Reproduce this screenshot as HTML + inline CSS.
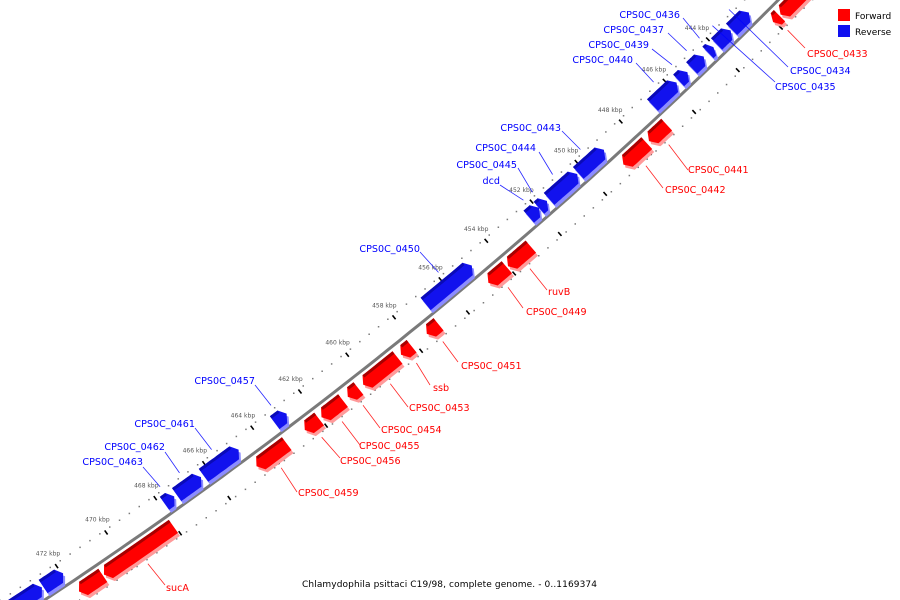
<!DOCTYPE html>
<html><head><meta charset="utf-8">
<style>
html,body{margin:0;padding:0;background:#fff;width:900px;height:600px;overflow:hidden;}
svg{display:block;overflow:hidden;}
.gl{font-family:"DejaVu Sans","Liberation Sans",sans-serif;font-size:9.6px;}
</style></head>
<body>
<svg id="chart" xmlns="http://www.w3.org/2000/svg" width="900" height="600" viewBox="0 0 900 600">
  <g id="ticks"></g>
  <path id="backbone" fill="none" stroke="#7a7a7a" stroke-width="3"></path>
  <g id="genes"></g>
  <g id="labels"></g>
  <g>
    <rect x="838" y="9" width="12" height="12" fill="#ff0000"/>
    <text x="855" y="19" font-family="DejaVu Sans, sans-serif" font-size="9" fill="#000">Forward</text>
    <rect x="838" y="25" width="12" height="12" fill="#1010f0"/>
    <text x="855" y="35" font-family="DejaVu Sans, sans-serif" font-size="9" fill="#000">Reverse</text>
  </g>
  <text x="302" y="587" font-family="DejaVu Sans, sans-serif" font-size="9" textLength="295" fill="#000">Chlamydophila psittaci C19/98, complete genome. - 0..1169374</text>
</svg>
<script>
// ---- data ----
const geneNames = ["CPS0C_0433a","CPS0C_0433","CPS0C_0434","CPS0C_0435","CPS0C_0436","CPS0C_0437","CPS0C_0439","CPS0C_0440","CPS0C_0441","CPS0C_0442","CPS0C_0443","CPS0C_0444","CPS0C_0445","dcd","ruvB","CPS0C_0449","CPS0C_0450","CPS0C_0451","ssb","CPS0C_0453","CPS0C_0454","CPS0C_0455","CPS0C_0456","CPS0C_0457","CPS0C_0459","CPS0C_0461","CPS0C_0462","CPS0C_0463","sucA","sucB","CPS0C_0466","CPS0C_0467"];
const geneStart = [439.5,441.75,442.4,443.25,444.05,444.5,445.25,445.75,446.95,447.85,449.05,450.25,451.6,451.95,453.0,454.05,454.9,457.0,458.15,458.75,460.4,461.05,462.05,462.8,463.4,464.8,466.35,467.45,468.05,470.9,471.95,472.8];
const geneEnd   = [441.7,442.05,443.2,443.9,444.3,445.05,445.65,446.85,447.75,448.9,450.2,451.5,451.95,452.4,454.0,454.85,456.9,457.5,458.6,460.2,460.85,461.95,462.65,463.3,464.65,466.25,467.35,467.85,470.85,471.85,472.75,475.0];
const geneStrand = [1,1,-1,-1,-1,-1,-1,-1,1,1,-1,-1,-1,-1,1,1,-1,1,1,1,1,1,1,-1,1,-1,-1,-1,1,1,-1,-1];
const tickKbp = [442,444,446,448,450,452,454,456,458,460,462,464,466,468,470,472];
const tickLabels = ["442 kbp","444 kbp","446 kbp","448 kbp","450 kbp","452 kbp","454 kbp","456 kbp","458 kbp","460 kbp","462 kbp","464 kbp","466 kbp","468 kbp","470 kbp","472 kbp"];
const labelGene = [1,2,3,4,5,6,7,8,9,10,11,12,13,14,15,16,17,18,19,20,21,22,23,24,25,26,27,28];
const labelText = ["CPS0C_0433","CPS0C_0434","CPS0C_0435","CPS0C_0436","CPS0C_0437","CPS0C_0439","CPS0C_0440","CPS0C_0441","CPS0C_0442","CPS0C_0443","CPS0C_0444","CPS0C_0445","dcd","ruvB","CPS0C_0449","CPS0C_0450","CPS0C_0451","ssb","CPS0C_0453","CPS0C_0454","CPS0C_0455","CPS0C_0456","CPS0C_0457","CPS0C_0459","CPS0C_0461","CPS0C_0462","CPS0C_0463","sucA"];
const labelLayout = [
 [807,57,'start',805,48],[790,74,'start',788,67],[775,90,'start',775,82],
 [680,18,'end',683,18],[664,33,'end',668,33],[649,48,'end',652,49],[633,63,'end',636,63],
 [688,173,'start',688,170],[665,193,'start',663,188],
 [561,131,'end',562,131],[536,151,'end',539,152],[517,168,'end',518,168],[500,184,'end',500,185],
 [548,295,'start',547,290],[526,315,'start',523,308],
 [420,252,'end',420,252],[461,369,'start',458,362],[433,391,'start',430,385],[409,411,'start',408,407],
 [381,433,'start',380,428],[359,449,'start',360,445],[340,464,'start',340,458],
 [255,384,'end',255,385],[298,496,'start',297,492],
 [195,427,'end',195,428],[165,450,'end',165,452],[143,465,'end',143,467],[166,591,'start',165,585]
];
// ---- geometry ----
const CX=-2543.6, CY=-3313.6, R=4692;
function theta(k){ return (45.88 + (k-444)*0.3675)*Math.PI/180; }
function pt(k,r){ const t=theta(k); return [CX+r*Math.cos(t), CY+r*Math.sin(t)]; }
const NS="http://www.w3.org/2000/svg";
function mk(tag, attrs){ const e=document.createElementNS(NS,tag); for(const a in attrs) e.setAttribute(a,attrs[a]); return e; }
function arcPts(k1,k2,r,n){ const a=[]; for(let i=0;i<=n;i++){ a.push(pt(k1+(k2-k1)*i/n,r)); } return a; }
function ps(a,dx,dy){ return a.map(p=>(p[0]+(dx||0)).toFixed(1)+','+(p[1]+(dy||0)).toFixed(1)).join(' '); }

(function(){
  const a=arcPts(438.5,475.5,R,80);
  document.getElementById('backbone').setAttribute('d','M'+a.map(p=>p[0].toFixed(1)+' '+p[1].toFixed(1)).join(' L'));
})();

(function(){
  const g=document.getElementById('ticks');
  for(let k=439; k<=475.01; k+=0.4){
    [-24,24].forEach(function(off){
      const p=pt(k,R+off);
      const d=mk('rect',{x:(p[0]-0.7).toFixed(1),y:(p[1]-0.7).toFixed(1),width:1.5,height:1.5,fill:'#7a7a7a'});
      
      
      g.appendChild(d);
    });
  }
  tickKbp.forEach(function(k,i){
    [[-24,-19],[19,24]].forEach(function(rr){
      const a=pt(k,R+rr[0]), b=pt(k,R+rr[1]);
      const l=mk('line',{x1:a[0].toFixed(1),y1:a[1].toFixed(1),x2:b[0].toFixed(1),y2:b[1].toFixed(1),stroke:'#000','stroke-width':1.6});
      
      
      g.appendChild(l);
    });
    const c=pt(k,R-37);
    const t=mk('text',{x:c[0].toFixed(1),y:(c[1]+2).toFixed(1),'text-anchor':'middle','font-family':'DejaVu Sans, sans-serif','font-size':'6',fill:'#555'});
    t.textContent=tickLabels[i];
    
    
    g.appendChild(t);
  });
})();

(function(){
  const g=document.getElementById('genes');
  geneStart.forEach(function(s,i){
    const e=geneEnd[i], fwd=geneStrand[i]>0;
    const r1=fwd?R+4:R-20, r2=fwd?R+20:R-4, rm=(r1+r2)/2;
    const tip=Math.min(0.18,(e-s)/2);
    let poly;
    if(fwd){
      poly=arcPts(s,e-tip,r1,12).concat([pt(e,rm)]).concat(arcPts(e-tip,s,r2,12));
    } else {
      poly=[pt(s,rm)].concat(arcPts(s+tip,e,r1,12)).concat(arcPts(e,s+tip,r2,12));
    }
    const grp=mk('g',{});
    
    
    const light=mk('polygon',{points:ps(poly,2,3),fill:fwd?'#ff9a9a':'#8c8cff'});
    
    
    grp.appendChild(light);
    const main=mk('polygon',{points:ps(poly),fill:fwd?'#ff0000':'#1212ee'});
    
    
    grp.appendChild(main);
    const ks=fwd?s:s+tip, ke=fwd?e-tip:e;
    const strip=arcPts(ks,ke,r1,12).concat(arcPts(ke,ks,r1+3,12));
    const st=mk('polygon',{points:ps(strip),fill:fwd?'#a80000':'#0a0ab8'});
    
    
    grp.appendChild(st);
    g.appendChild(grp);
  });
})();

(function(){
  const g=document.getElementById('labels');
  labelGene.forEach(function(gi,i){
    const L=labelLayout[i], fwd=geneStrand[gi]>0;
    const col=fwd?'#ff0000':'#0000ff';
    const m=(geneStart[gi]+geneEnd[gi])/2;
    const end=pt(m,fwd?R+28:R-28);
    const ln=mk('line',{x1:L[3],y1:L[4],x2:end[0].toFixed(1),y2:end[1].toFixed(1),stroke:col,'stroke-width':0.8,opacity:0.85});
    
    
    g.appendChild(ln);
    const t=mk('text',{x:L[0],y:L[1],'text-anchor':L[2],fill:col,'class':'gl'});
    t.textContent=labelText[i];
    
    
    g.appendChild(t);
  });
})();
</script>
</body></html>
